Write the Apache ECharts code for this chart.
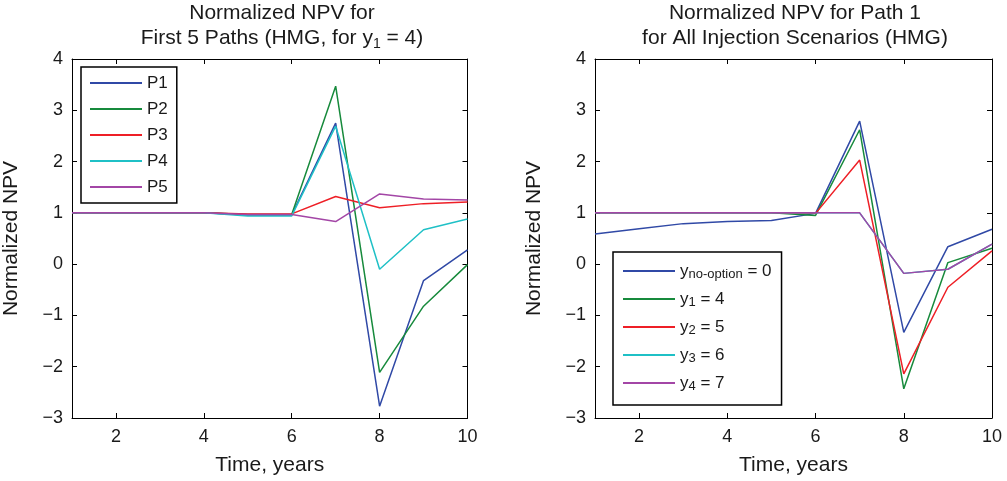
<!DOCTYPE html>
<html>
<head>
<meta charset="utf-8">
<script src="https://cdn.jsdelivr.net/npm/echarts@6/dist/echarts.min.js"></script>
<style>
html,body{margin:0;padding:0;background:#fff;}
#c{width:1007px;height:481px;}
</style>
</head>
<body>
<div id="c"></div>
<script>
// ---- data ----
var years = [1, 2, 3, 4, 5, 6, 7, 8, 9, 10];
var xTicks = [2, 4, 6, 8, 10];
var yTicks = [-3, -2, -1, 0, 1, 2, 3, 4];

// Left panel: first 5 paths (y1 = 4)
var pathNames = ['P1', 'P2', 'P3', 'P4', 'P5'];
var P1 = [1, 1, 1, 1, 0.96, 0.96, 2.75, -2.77, -0.32, 0.28];
var P2 = [1, 1, 1, 1, 0.97, 0.97, 3.47, -2.11, -0.82, -0.01];
var P3 = [1, 1, 1, 1, 0.98, 0.98, 1.32, 1.10, 1.18, 1.21];
var P4 = [1, 1, 1, 1, 0.94, 0.94, 2.69, -0.10, 0.67, 0.88];
var P5 = [1, 1, 1, 1, 0.97, 0.97, 0.83, 1.37, 1.27, 1.25];

// Right panel: path 1, all injection scenarios
var scenNames = ['yNoOption', 'y1', 'y2', 'y3', 'y4'];
var scenLabels = ['{y|y}{s|no-option}{y| = 0}', '{y|y}{s|1}{y| = 4}', '{y|y}{s|2}{y| = 5}', '{y|y}{s|3}{y| = 6}', '{y|y}{s|4}{y| = 7}'];
var yNoOption = [0.59, 0.69, 0.79, 0.83, 0.85, 0.99, 2.79, -1.33, 0.34, 0.68];
var y1 = [1, 1, 1, 1, 1, 0.95, 2.62, -2.43, 0.03, 0.31];
var y2 = [1, 1, 1, 1, 1, 0.99, 2.03, -2.14, -0.45, 0.26];
var y3 = [1, 1, 1, 1, 1, 1, 1, -0.18, -0.10, 0.39];
var y4 = [1, 1, 1, 1, 1, 1, 1, -0.18, -0.10, 0.39];

var colors = ['#3049a6', '#178a3c', '#ee1f26', '#1fc0c6', '#a346a6'];

// ---- chart ----
var FONT = '"Liberation Sans", Arial, Helvetica, sans-serif';
var TXT = '#1a1a1a';
function pairs(arr) { return years.map(function (x, i) { return [x, arr[i]]; }); }
function fmtY(v) { return v < 0 ? '\u2212' + Math.abs(v) : String(v); }

var grids = [
  { left: 72, top: 59, width: 395.5, height: 360 },
  { left: 595, top: 59, width: 397, height: 360 }
];

function xAxes(gi) {
  return [{
    type: 'value', gridIndex: gi, min: 1, max: 10, position: 'bottom',
    name: 'Time, years', nameLocation: 'middle', nameGap: 37,
    nameTextStyle: { fontFamily: FONT, fontSize: 21, color: TXT },
    axisLine: { show: true, onZero: false, lineStyle: { color: '#000', width: 1 } },
    axisTick: { show: true, inside: true, length: 5, customValues: xTicks, lineStyle: { color: '#000' } },
    axisLabel: { show: true, margin: 10, customValues: xTicks, fontFamily: FONT, fontSize: 18, color: TXT },
    splitLine: { show: false }
  }, {
    type: 'value', gridIndex: gi, min: 1, max: 10, position: 'top',
    axisLine: { show: true, onZero: false, lineStyle: { color: '#000', width: 1 } },
    axisTick: { show: true, inside: true, length: 5, customValues: xTicks, lineStyle: { color: '#000' } },
    axisLabel: { show: false },
    splitLine: { show: false }
  }];
}
function yAxes(gi) {
  return [{
    type: 'value', gridIndex: gi, min: -3, max: 4, interval: 1, position: 'left',
    name: 'Normalized NPV', nameLocation: 'middle', nameGap: 50,
    nameTextStyle: { fontFamily: FONT, fontSize: 21, color: TXT },
    axisLine: { show: true, onZero: false, lineStyle: { color: '#000', width: 1 } },
    axisTick: { show: true, inside: true, length: 5, lineStyle: { color: '#000' } },
    axisLabel: { show: true, margin: 9, formatter: fmtY, fontFamily: FONT, fontSize: 18, color: TXT },
    splitLine: { show: false }
  }, {
    type: 'value', gridIndex: gi, min: -3, max: 4, interval: 1, position: 'right',
    axisLine: { show: true, onZero: false, lineStyle: { color: '#000', width: 1 } },
    axisTick: { show: true, inside: true, length: 5, lineStyle: { color: '#000' } },
    axisLabel: { show: false },
    splitLine: { show: false }
  }];
}

var leftData = [P1, P2, P3, P4, P5];
var rightData = [yNoOption, y1, y2, y3, y4];
var series = [];
leftData.forEach(function (d, i) {
  series.push({
    name: pathNames[i], type: 'line', xAxisIndex: 0, yAxisIndex: 0,
    data: pairs(d), symbol: 'none', lineStyle: { color: colors[i], width: 1.5 },
    itemStyle: { color: colors[i] }, z: 2 + i
  });
});
rightData.forEach(function (d, i) {
  series.push({
    name: scenNames[i], type: 'line', xAxisIndex: 2, yAxisIndex: 2,
    data: pairs(d), symbol: 'none', lineStyle: { color: colors[i], width: 1.5 },
    itemStyle: { color: colors[i] }, z: 2 + i
  });
});

var titleRich = {
  t: { fontFamily: FONT, fontSize: 21, fontWeight: 'normal', lineHeight: 25, color: TXT, align: 'center' },
  s: { fontFamily: FONT, fontSize: 14, fontWeight: 'normal', lineHeight: 12, verticalAlign: 'bottom', color: TXT }
};

var option = {
  animation: false,
  backgroundColor: '#fff',
  title: [{
    text: '{t|Normalized NPV for}\n{t|First 5 Paths (HMG, for y}{s|1}{t| = 4)}',
    left: 282, top: 1, padding: 0, textAlign: 'center',
    textStyle: { fontWeight: 'normal', rich: titleRich }
  }, {
    text: '{t|Normalized NPV for Path 1}\n{t|for All Injection Scenarios (HMG)}',
    left: 795, top: 1, padding: 0, textAlign: 'center',
    textStyle: { fontWeight: 'normal', rich: titleRich }
  }],
  grid: grids,
  xAxis: xAxes(0).concat(xAxes(1)),
  yAxis: yAxes(0).concat(yAxes(1)),
  legend: [{
    data: pathNames, orient: 'vertical', left: 81, top: 67,
    padding: [6, 9, 6, 9], itemGap: 6, itemWidth: 52, itemHeight: 2, icon: 'rect',
    borderColor: '#000', borderWidth: 1.5, backgroundColor: '#fff',
    selectedMode: false,
    textStyle: { fontFamily: FONT, fontSize: 17, lineHeight: 20, color: TXT }
  }, {
    data: scenNames, orient: 'vertical', left: 613, top: 252,
    padding: [9, 10, 12, 10], itemGap: 8, itemWidth: 52, itemHeight: 2, icon: 'rect',
    borderColor: '#000', borderWidth: 1.5, backgroundColor: '#fff',
    selectedMode: false,
    formatter: function (name) { return scenLabels[scenNames.indexOf(name)]; },
    textStyle: {
      fontFamily: FONT, fontSize: 17, lineHeight: 20, color: TXT,
      rich: {
        y: { fontFamily: FONT, fontSize: 17, lineHeight: 20, color: TXT },
        s: { fontFamily: FONT, fontSize: 13, lineHeight: 10, verticalAlign: 'bottom', color: TXT }
      }
    }
  }],
  series: series
};

var chart = echarts.init(document.getElementById('c'), null, { renderer: 'canvas' });
chart.setOption(option);
</script>
</body>
</html>
